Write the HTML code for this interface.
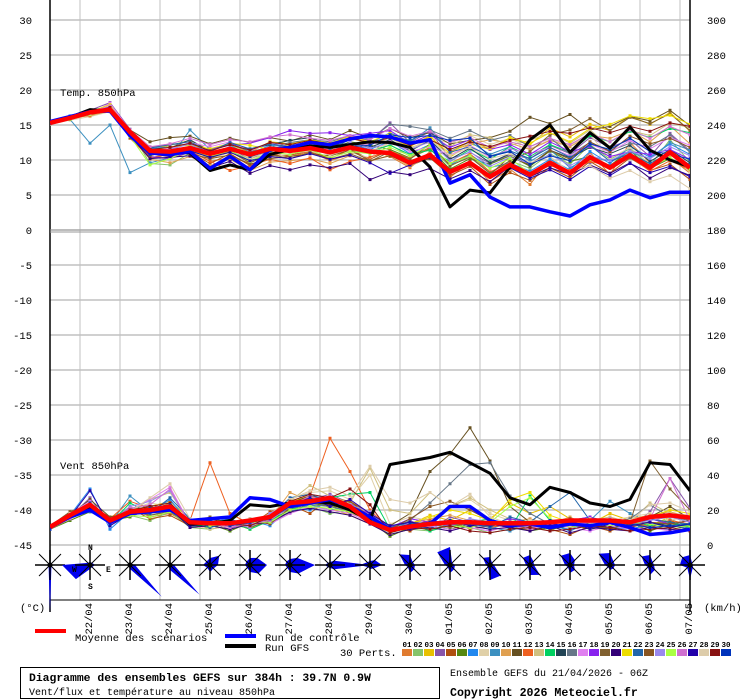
<!DOCTYPE html>
<html><head><meta charset="utf-8"><style>
html,body{margin:0;padding:0;background:#fff}
svg{display:block}
text{font-family:"Liberation Mono","DejaVu Sans Mono",monospace;fill:#000}
</style></head><body>
<svg id="chart" width="740" height="700" viewBox="0 0 740 700" xmlns="http://www.w3.org/2000/svg">
<defs><clipPath id="plotclip"><rect x="50" y="0" width="640" height="546"/></clipPath></defs>
<g id="grid"></g>
<g id="axes"></g>
<g id="series" clip-path="url(#plotclip)"></g>
<g id="roses"></g>
<text x="60" y="96" font-size="10.5">Temp. 850hPa</text>
<text x="60" y="469" font-size="10.5">Vent 850hPa</text>
<text x="20" y="611" font-size="10.5">(°C)</text>
<text x="704" y="611" font-size="10.5">(km/h)</text>
<g>
<rect x="35" y="629" width="31" height="4" fill="#ff0000"/>
<text x="75" y="641" font-size="10.5">Moyenne des scénarios</text>
<rect x="225" y="634" width="31" height="4" fill="#0000ff"/>
<text x="265" y="641" font-size="10.5">Run de contrôle</text>
<rect x="225" y="644" width="31" height="4" fill="#000"/>
<text x="265" y="651" font-size="10.5">Run GFS</text>
<text x="340" y="656" font-size="10.5">30 Perts.</text>
<g id="perts"></g>
</g>
<rect x="20.5" y="667.5" width="419" height="31" fill="none" stroke="#000"/>
<text x="29" y="681" font-size="11.4" font-weight="bold">Diagramme des ensembles GEFS sur 384h : 39.7N 0.9W</text>
<text x="29" y="695" font-size="10">Vent/flux et température au niveau 850hPa</text>
<text x="450" y="676" font-size="10">Ensemble GEFS du 21/04/2026 - 06Z</text>
<text x="450" y="696" font-size="11.6" font-weight="bold">Copyright 2026 Meteociel.fr</text>
</svg>
<script>
const dates=["22/04","23/04","24/04","25/04","26/04","27/04","28/04","29/04","30/04","01/05","02/05","03/05","04/05","05/05","06/05","07/05"];
const leftTicks=[30,25,20,15,10,5,0,-5,-10,-15,-20,-25,-30,-35,-40,-45];
const rightTicks=[300,280,260,240,220,200,180,160,140,120,100,80,60,40,20,0];
const memberColors=["#e07b2f","#86c46a","#e8c000","#8855aa","#b05010","#558810","#2288ee","#e0d0a8","#3c90c0","#e0a050","#665020","#ee6020","#d0c080","#00d060","#224455","#667788","#e080f0","#8822ee","#806030","#330077","#eedd00","#2266aa","#885522","#9988ee","#aaff44","#d070d0","#2200aa","#ddccaa","#881111","#0033bb"];
const stepHours=12;
const meanTemp=[15.3,16,16.8,17.2,14,11.3,11.2,11.7,10.9,11.6,10.8,11.6,11.3,11.7,11.1,11.8,11.2,11,9.6,10.7,8.3,9.6,7.6,9.3,7.9,9.6,8.1,10.4,8.9,10.7,8.9,11.1,8.9];
const controlTemp=[15.5,16.2,16.9,17,13.5,11,10.8,11.2,8.8,10.5,8.6,11.5,11.8,12.5,12.2,13,13.5,13.3,12.4,12.9,6.7,7.9,4.7,3.3,3.3,2.6,2,3.6,4.3,5.7,4.6,5.4,5.4];
const gfsTemp=[15.4,16.1,17.2,17,13.8,11,11.2,11,8.5,9.3,8.6,10.8,11.5,12,11.8,12.2,12.6,12.5,11.8,9,3.3,5.7,5.3,9,12.9,15,11.1,13.9,11.7,14.7,11.4,10,9];
const meanWind=[10.3,17,23,14,19,20,22,13,12.4,12.4,14,16,24,25,27,22,13,8.6,10.5,12,13,13,12.4,12.4,12.4,13,14,14,14,13,16,17,15.6];
const controlWind=[10,16,20,13,18,19,20,14,15,16,27,26,22,24,26,22,16,9,10,12,22,22,14,11,12,10,12,11,13,10,6,7,9];
const gfsWind=[10,17,22,14,18,20,22,12,12,14,23,22,24,25,24,20,14,46,48,50,53,47,41,27,23,33,30,24,22,26,47,46,31];
const t1=[15.4,16.1,16.6,17.3,13.5,10.2,10.8,11.5,9.8,10.3,9.6,10.9,10.5,11.2,9.9,10.8,11.6,10.5,8.9,11.2,7.5,9.8,6.9,8.7,6.5,10.2,7.8,11.1,7.9,12.5,9.6,10.4,8.1];
const t2=[15.2,16,16.9,17.6,14.2,9.5,9.3,11,10.2,11.4,10.8,11.2,11.9,12.1,10.6,11.4,10.9,12.2,10.5,11.8,9.1,10.6,8.2,9.9,8.8,10.9,9.4,12.2,10.1,11.6,9.2,12.9,9.7];
const t3=[15.5,16.2,16.4,16.9,13.9,11.5,12.1,12.8,11.4,12.2,11.1,12.6,12.3,12.9,11.8,13.1,12.4,13.2,11.9,13.5,10.4,12.3,11.5,13.1,12.2,14.6,13.3,15.1,14.2,16.3,15.1,16.8,14.1];
const t4=[15.3,15.9,17.1,18.2,14.4,10.8,11.3,11.9,10.6,11.7,10.1,11.5,12,11.5,11.9,13.3,12.8,15.3,12.5,14.1,10.2,11.1,9.5,10.8,10.2,12.1,10.9,13.2,11.8,12.9,10.5,13.8,11.3];
const t5=[15.4,16,16.5,17.4,13.2,10.4,10.2,11.1,9.5,10.9,9.2,10.6,10.7,11.3,10.2,11.5,10.1,11.4,9.2,10.3,7.8,9.1,6.5,8.2,7.1,8.9,7.5,9.8,8.1,10.3,8.5,9.4,7.2];
const t6=[15.2,15.8,16.7,17.2,13.6,11.2,11.6,12.4,10.9,11.8,10.4,11.2,11.6,12.4,11.5,12.6,12.1,11.5,10.3,11.6,8.7,10.2,9.4,10.6,9.1,11.3,9.8,10.5,9.2,11.4,8.8,10.2,8.5];
const t7=[15.5,16.3,16.9,17.5,14.1,11.6,11.9,12.2,11.1,11.6,10.9,12.1,11.9,11.6,11.2,12.3,11.5,12.7,10.9,12.2,9.3,10.8,8.9,9.6,8.4,10.1,8.6,11.2,9.5,11.9,10.4,12.3,10.8];
const t8=[15.1,15.7,16.2,16.9,13.8,10.9,10.4,11.2,10.1,11.1,9.9,10.3,10.9,11.3,10.4,11.1,10.3,12.6,11.6,13.1,12.4,13.5,12.2,13.1,11.6,12.9,12.1,13.6,10.2,11.8,9.4,11.2,8.2];
const t9=[15.3,15.8,12.4,15,8.2,9.6,10.3,14.3,11.5,12.1,10.7,11.4,12.3,11.8,10.9,11.7,12.4,13.9,12.6,14.6,11.2,12.6,10.8,11.9,9.8,11.5,8.9,10.4,9.9,11.1,10.2,12.5,11.4];
const t10=[15.4,16.1,16.3,17.1,13.4,10.1,9.6,10.5,9.2,10.1,8.5,9.7,9.9,10.2,9.5,10.6,9.8,10.7,9.1,10.5,11.2,12.3,12.9,12.4,11.5,12.8,11.9,13.5,13.1,14.2,12.6,14.9,12.3];
const t11=[15.3,16,16.8,17.6,14.3,12.6,13.2,13.4,12.3,13.1,12.5,13.2,12.7,13.6,12.9,14.2,13.1,14.5,13.2,13.9,12.3,12.8,13.2,14.1,16.1,15.2,16.5,14.3,14.8,16.2,15.6,17.1,14.9];
const t12=[15.2,15.9,16.4,17.3,13.1,10.3,10.9,11.3,9.8,8.5,9.2,10.1,9.5,10.3,8.6,9.8,10.4,11.3,10.2,11.8,9.5,10.9,8.3,9.6,7.9,9.2,8.5,9.8,9.1,10.5,8.4,9.9,8.6];
const t13=[15.5,16.2,16.7,17.4,14,11.4,10.8,11.7,10.6,11.2,10.2,10.9,11.4,12,11.3,11.6,12.3,13.1,11.8,12.5,11.9,13.6,13.2,12.1,12.8,13.9,12.4,14.3,11.9,14.2,13.5,15.3,14.6];
const t14=[15.3,16,16.9,17.3,13.9,11.1,11.4,11.9,10.7,11.3,9.9,10.9,11.2,11.9,10.8,12.1,11.3,12.1,10.8,11.4,9.8,11.5,10.1,11.9,10.5,12.2,11.1,13.5,12.6,14.1,13.2,14.5,13.9];
const t15=[15.4,16.1,16.6,17.5,13.6,10.6,11.7,12.9,11.2,12.4,11.5,12.2,12.8,13.2,12.1,12.4,11.8,12.9,11.3,12.8,10.1,11.7,9.6,10.9,9.2,11.4,10.3,11.8,10.9,12.1,9.8,11.5,9.6];
const t16=[15.2,15.8,16.9,17.2,13.7,11.8,12.3,12.1,11.4,12.3,11.2,11.8,12.5,12.9,12.6,13.5,12.9,15.1,14.8,14.3,13.1,14.2,12.8,13.5,11.9,13.2,10.8,12.5,11.3,12.4,11.9,13.6,11.1];
const t17=[15.3,16,16.6,18.1,14.2,11.4,11.6,12.5,11.9,12.6,11.3,12.4,11.9,12.6,11.4,12.1,12.3,12.6,11.2,11.9,10.7,12.1,10.4,11.6,10.9,11.8,10.6,12.3,11.1,12.8,11.6,13.2,12.1];
const t18=[15.4,16.1,16.8,17.3,13.8,10.5,10.2,11.2,11.6,12.1,12.4,13.2,14.2,13.8,13.9,13.5,13.8,14.2,12.4,13.6,11.8,12.9,11.5,12.2,10.8,12.6,11.2,11.9,10.5,11.2,10.8,11.5,10.1];
const t19=[15.3,15.9,16.5,17.1,13.2,10.7,11.1,11.4,10.3,11.2,9.6,10.8,10.2,11.1,10.1,10.9,9.8,11.2,10.1,12.3,9.2,10.4,8.1,9.9,11.2,13.6,14.3,15.9,14.2,16.1,15.2,16.6,14.2];
const t20=[15.5,16.2,16.8,17.6,13.5,10.2,10.4,10.6,8.9,9.8,8.1,9.2,8.6,9.3,8.9,9.5,7.2,8.3,7.9,8.8,7.3,8.5,6.9,9.1,7.6,8.9,7.9,9.3,8.1,9.6,7.4,8.9,7.8];
const t21=[15.2,16,16.9,17.9,13.9,11.3,11.9,12.1,11.6,12.4,12.1,11.5,12.2,12.9,12.4,13.4,12.6,13.8,12.3,13.3,10.9,12.8,11.6,13.2,12.4,13.9,12.6,14.5,15.1,16.3,15.9,16.4,15.1];
const t22=[15.3,16.1,16.7,17.4,14.1,11.7,12.2,12.6,11.2,12.5,11.6,12.3,11.9,12.5,11.6,12.9,13.2,13.4,12.8,14.2,11.1,11.9,10.6,11.3,10.2,11.8,10.4,12.1,9.8,10.9,9.5,11.1,9.3];
const t23=[15.4,16,16.6,17.2,13.7,10.6,11.4,10.9,10.2,10.7,9.4,10.2,10.5,10.9,10.6,11.4,9.9,10.6,9.4,10.2,8.6,9.8,7.9,10.5,9.3,11.4,10.1,12.6,11.2,13.4,12.3,13.1,11.8];
const t24=[15.3,15.9,16.8,17.5,14,11.1,11.5,12.3,10.8,11.9,10.6,11.6,11.4,12.2,11.2,12.5,11.7,12.4,11.5,12.6,9.9,11.2,9.1,10.4,9.5,10.8,9.2,10.6,9.9,11.3,10.2,11.9,10.6];
const t25=[15.2,15.8,16.5,17.3,13.4,9.3,10.2,11.4,10.5,11.3,9.8,11.1,10.8,11.5,10.3,11.2,10.9,11.8,10.6,12.1,9.5,10.6,8.8,10.2,8.1,9.6,8.3,10.1,8.9,10.6,9.1,10.3,8.7];
const t26=[15.4,16.2,16.9,17.7,14.3,11.9,12.3,13.1,12.2,12.9,12.6,13.3,13.6,13.1,12.8,13.5,12.9,14.5,13.4,14.1,12.6,13.2,11.8,12.6,11.9,13.1,12.2,13.8,12.6,14.3,13.1,14.8,13.6];
const t27=[15.3,16,16.7,17.1,13.6,10.9,10.5,11.3,10.4,11.1,9.9,10.5,10.2,10.9,10.1,10.7,9.6,8.1,9.3,10.4,8.2,9.4,7.6,8.9,7.4,8.6,7.2,9.1,7.8,9.5,8.2,9.1,7.6];
const t28=[15.4,16.1,16.6,17.4,13.9,11.2,10.9,11.6,10.9,11.7,10.3,11.3,11.1,11.8,10.7,11.6,11.2,12.5,11.6,12.9,10.6,11.8,10.2,10.9,9.6,10.5,8.3,9.2,7.4,8.5,6.9,7.8,5.9];
const t29=[15.3,15.9,16.8,17.5,14,11.5,11.8,12.4,11.3,12.2,11.4,12.5,12.2,12.8,12.3,13.1,12.5,13.2,12.1,12.9,11.5,12.6,11.9,12.8,13.4,14.1,13.8,14.6,13.9,14.8,14.1,15.3,14.8];
const t30=[15.2,16,16.9,17.2,13.5,10.8,11.2,11.8,10.9,11.6,10.5,11.3,11.2,11.8,11.1,11.9,12.1,13.6,13.2,13.5,12.8,13.1,10.5,11.2,9.4,10.6,9.9,12.3,11.5,13.1,11.2,10.9,10.1];
const w1=[10,18,20,13,22,16,18,12,14,10,12,15,22,21,24,18,15,8,10,12,14,9,11,13,8,12,10,14,9,11,13,12,14];
const w2=[11,15,25,12,17,14,19,10,9,11,10,14,20,22,18,20,13,6,9,8,12,10,7,9,11,8,13,10,12,9,11,15,10];
const w3=[9,17,22,16,20,22,25,15,11,13,9,17,25,28,21,17,12,9,12,17,14,20,15,24,18,22,15,12,18,14,11,16,13];
const w4=[10,16,27,11,18,23,20,14,13,9,15,12,19,26,29,24,16,7,14,9,16,13,10,12,9,14,11,15,13,10,19,38,21];
const w5=[10,19,24,15,21,15,17,11,10,14,11,19,23,18,27,25,18,10,8,13,11,15,12,10,13,9,6,11,8,12,10,14,9];
const w6=[9,14,19,14,16,21,23,13,12,8,13,16,18,24,22,21,14,5,10,11,9,12,14,11,8,10,12,9,11,13,8,12,11];
const w7=[11,17,32,9,19,18,26,12,15,12,14,11,21,20,25,19,16,8,11,10,13,11,9,13,10,12,8,13,10,9,12,11,10];
const w8=[10,18,21,13,20,24,22,14,16,10,12,18,26,30,31,26,40,12,16,14,22,26,18,14,11,13,15,12,14,16,18,14,17];
const w9=[10,16,23,12,28,19,21,10,13,15,11,13,19,23,20,22,15,8,13,9,12,14,10,8,12,11,9,14,25,18,13,10,12];
const w10=[9,15,20,14,17,19,24,13,11,12,10,15,30,25,23,20,14,9,12,15,17,14,11,13,15,12,16,10,13,15,17,19,16];
const w11=[10,17,26,16,18,22,19,15,12,11,13,14,24,28,26,23,17,11,18,42,52,67,48,22,13,11,14,12,10,13,16,22,15];
const w12=[10,19,23,15,25,21,20,14,47,18,12,17,22,28,61,42,20,9,11,14,12,13,10,12,9,14,11,10,13,12,11,14,12];
const w13=[10,18,22,14,19,26,30,13,9,11,15,13,25,34,28,24,44,20,18,30,22,27,20,15,11,13,12,14,16,13,24,18,17];
const w14=[10,16,21,12,24,18,21,12,10,13,9,14,20,24,27,29,30,9,12,8,11,13,15,9,28,14,10,12,9,14,11,13,10];
const w15=[11,17,24,13,18,20,23,11,14,10,12,16,23,26,24,21,15,8,10,12,14,11,13,10,12,9,11,14,10,12,13,11,9];
const w16=[10,15,22,14,19,17,20,13,11,14,12,15,21,23,22,19,16,9,14,24,35,46,47,28,18,12,14,16,13,15,23,16,14];
const w17=[9,18,25,11,20,26,33,12,13,10,14,12,18,22,20,18,13,7,13,11,9,10,8,11,9,12,10,8,11,9,10,8,9];
const w18=[10,17,20,15,17,19,22,14,12,11,13,15,24,26,25,22,18,10,15,13,11,14,12,15,13,11,14,16,12,10,15,12,14];
const w19=[11,19,23,13,21,17,19,12,16,12,10,14,22,27,23,20,15,9,11,12,10,13,11,12,14,10,12,11,9,13,48,32,20];
const w20=[10,16,21,14,18,20,21,10,11,9,12,13,19,21,19,17,12,6,9,10,8,11,9,10,8,11,7,10,9,8,10,9,8];
const w21=[10,18,24,12,20,22,24,13,14,12,11,17,23,25,24,21,16,8,12,16,20,18,14,26,30,17,13,15,14,12,16,20,18];
const w22=[9,17,19,14,19,18,27,15,10,13,12,16,27,29,25,20,17,10,13,11,14,12,10,16,13,22,30,14,12,11,15,13,12];
const w23=[10,16,22,16,18,21,23,12,13,11,14,12,21,24,23,25,16,9,15,22,25,20,14,11,13,12,15,11,14,10,13,12,14];
const w24=[10,18,23,13,22,25,31,12,14,13,10,18,24,26,28,23,19,8,11,13,12,15,13,12,11,14,12,13,15,12,14,16,13];
const w25=[10,17,20,15,17,16,19,14,11,12,13,13,20,22,21,19,14,7,10,9,11,10,13,22,27,15,10,12,11,13,12,10,11];
const w26=[10,15,22,13,21,23,32,12,13,10,12,14,22,28,24,21,16,8,12,11,13,12,14,13,10,12,11,13,12,14,15,38,14];
const w27=[11,16,31,11,18,20,22,11,12,14,13,15,23,27,22,26,18,11,13,12,14,11,12,10,13,11,14,9,12,11,13,10,12];
const w28=[10,18,20,14,19,27,35,15,13,11,14,16,26,31,33,28,45,26,24,30,22,29,16,12,14,13,11,15,12,14,23,24,19];
const w29=[10,17,21,15,20,22,24,13,15,12,11,16,25,29,27,32,23,7,10,9,11,8,7,9,10,8,9,11,10,8,9,10,8];
const w30=[9,16,24,12,18,21,23,12,14,11,13,15,22,26,25,22,16,9,12,13,14,12,11,13,12,14,13,11,14,12,10,11,12];
const memberTemps=[t1,t2,t3,t4,t5,t6,t7,t8,t9,t10,t11,t12,t13,t14,t15,t16,t17,t18,t19,t20,t21,t22,t23,t24,t25,t26,t27,t28,t29,t30];
const memberWinds=[w1,w2,w3,w4,w5,w6,w7,w8,w9,w10,w11,w12,w13,w14,w15,w16,w17,w18,w19,w20,w21,w22,w23,w24,w25,w26,w27,w28,w29,w30];
// wind rose sector lengths: N, NE, E, SE, S, SW, W, NW
const roseDays=["21/04","22/04","23/04","24/04","25/04","26/04","27/04","28/04","29/04","30/04","01/05","02/05","03/05","04/05","05/05","06/05","07/05"];
const roseN=[2,3,2,2,7,7,6,3,4,10,18,8,10,12,12,10,10];
const roseNE=[2,3,2,2,13,10,10,6,7,4,3,3,5,7,5,4,3];
const roseE=[2,5,5,4,8,17,25,40,12,5,5,4,4,4,5,4,3];
const roseSE=[2,3,45,42,5,12,12,6,5,6,6,15,14,7,5,7,4];
const roseS=[47,4,4,5,7,7,7,3,4,8,8,15,10,8,5,10,14];
const roseSW=[2,20,2,2,4,4,4,3,3,3,3,3,3,3,3,3,4];
const roseW=[3,28,2,2,7,5,5,5,10,5,5,4,4,5,5,5,10];
const roseNW=[2,3,2,2,5,5,5,3,4,15,18,10,10,13,16,12,11];

const NS="http://www.w3.org/2000/svg";
const X0=50,X1=690,pxPerHour=40/24;
function xAt(i){return X0+i*stepHours*pxPerHour;}
function yTemp(v){return 230-7*v;}
function yWind(v){return 545-1.75*v;}
function yLeft(v){return 230-7*v;}
function yRight(v){return 545-1.75*v;}
function mk(tag,attrs,parent){const e=document.createElementNS(NS,tag);for(const k in attrs)e.setAttribute(k,attrs[k]);parent.appendChild(e);return e;}

const grid=document.getElementById('grid');
// vertical gridlines at 00Z each day
dates.forEach((d,k)=>{
  const x=80+40*k;
  const ln=mk('line',{x1:x,y1:0,x2:x,y2:600,stroke:'#c0c0c0','stroke-width':1},grid);
  
  
});
leftTicks.forEach(v=>{
  const y=yLeft(v);
  const ln=mk('line',{x1:X0,y1:y,x2:X1,y2:y,stroke:'#c0c0c0','stroke-width':1.5},grid);
  
  
});
const axes=document.getElementById('axes');
mk('line',{x1:X0,y1:0,x2:X0,y2:612,stroke:'#000','stroke-width':1.5},axes);
mk('line',{x1:X1,y1:0,x2:X1,y2:612,stroke:'#000','stroke-width':1.5},axes);
mk('line',{x1:X0,y1:600,x2:X1,y2:600,stroke:'#000','stroke-width':1},axes);
mk('line',{x1:X0,y1:230,x2:X1,y2:230,stroke:'#999','stroke-width':1},axes);
mk('line',{x1:X0,y1:232,x2:X1,y2:232,stroke:'#999','stroke-width':1},axes);
leftTicks.forEach(v=>{
  const t=mk('text',{x:32,y:yLeft(v)+4,'font-size':10.5,'text-anchor':'end'},axes);
  t.textContent=String(v);
  
  
});
rightTicks.forEach(v=>{
  const t=mk('text',{x:707,y:yRight(v)+4,'font-size':10.5},axes);
  t.textContent=String(v);
  
  
});
dates.forEach((d,k)=>{
  const x=80+40*k+12;
  const t=mk('text',{x:0,y:0,'font-size':10.5,'text-anchor':'end',transform:'translate('+x+',603) rotate(-90)'},axes);
  t.textContent=d;
  
  
});

const series=document.getElementById('series');
function drawLine(vals,yf,color,w,name,markers){
  const pts=vals.map((v,i)=>xAt(i).toFixed(1)+','+yf(v).toFixed(1)).join(' ');
  const pl=mk('polyline',{points:pts,fill:'none',stroke:color,'stroke-width':w,'stroke-linejoin':'round'},series);
  
  
  if(markers){vals.forEach((v,i)=>{
    const c=mk('rect',{x:xAt(i)-1.5,y:yf(v)-1.5,width:3,height:3,fill:color},series);
    
    
  });}
}
memberTemps.forEach((m,j)=>drawLine(m,yTemp,memberColors[j],1,'temp-member-'+(j+1),true));
memberWinds.forEach((m,j)=>drawLine(m,yWind,memberColors[j],1,'wind-member-'+(j+1),true));
drawLine(gfsTemp,yTemp,'#000',3,'temp-gfs-run',false);
drawLine(gfsWind,yWind,'#000',3,'wind-gfs-run',false);
drawLine(controlTemp,yTemp,'#0000ff',3.5,'temp-control-run',false);
drawLine(controlWind,yWind,'#0000ff',3.5,'wind-control-run',false);
drawLine(meanTemp,yTemp,'#ff0000',4.5,'temp-ensemble-mean',false);
drawLine(meanWind,yWind,'#ff0000',4.5,'wind-ensemble-mean',false);

const roses=document.getElementById('roses');
const dirs=[[0,-1],[0.7071,-0.7071],[1,0],[0.7071,0.7071],[0,1],[-0.7071,0.7071],[-1,0],[-0.7071,-0.7071]];
roseDays.forEach((d,k)=>{
  const cx=X0+40*k,cy=565;
  const g=mk('g',{},roses);
  
  
  const r=[roseN[k],roseNE[k],roseE[k],roseSE[k],roseS[k],roseSW[k],roseW[k],roseNW[k]];
  const pts=r.map((v,i)=>(cx+dirs[i][0]*v).toFixed(1)+','+(cy+dirs[i][1]*v).toFixed(1)).join(' ');
  mk('polygon',{points:pts,fill:'#0000ee'},g);
  mk('line',{x1:cx-15,y1:cy,x2:cx+15,y2:cy,stroke:'#000','stroke-width':1.5},g);
  mk('line',{x1:cx,y1:cy-15,x2:cx,y2:cy+15,stroke:'#000','stroke-width':1.5},g);
  mk('line',{x1:cx-11,y1:cy-11,x2:cx+11,y2:cy+11,stroke:'#000','stroke-width':1},g);
  mk('line',{x1:cx-11,y1:cy+11,x2:cx+11,y2:cy-11,stroke:'#000','stroke-width':1},g);
  mk('circle',{cx:cx,cy:cy,r:2.5,fill:'#000'},g);
});
[['N',88,550],['S',88,589],['E',106,572],['W',72,572]].forEach(a=>{
  const t=mk('text',{x:a[1],y:a[2],'font-size':8,'font-weight':'bold'},roses);
  t.textContent=a[0];
  
  
});

const perts=document.getElementById('perts');
memberColors.forEach((c,j)=>{
  const x=402+11*j;
  const lab=String(j+1).padStart(2,'0');
  const t=mk('text',{x:x+5,y:647,'font-size':7.5,'font-weight':'bold','text-anchor':'middle'},perts);
  t.textContent=lab;
  
  
  const r=mk('rect',{x:x,y:649,width:10,height:7,fill:c},perts);
  
  
});
</script>
</body></html>
